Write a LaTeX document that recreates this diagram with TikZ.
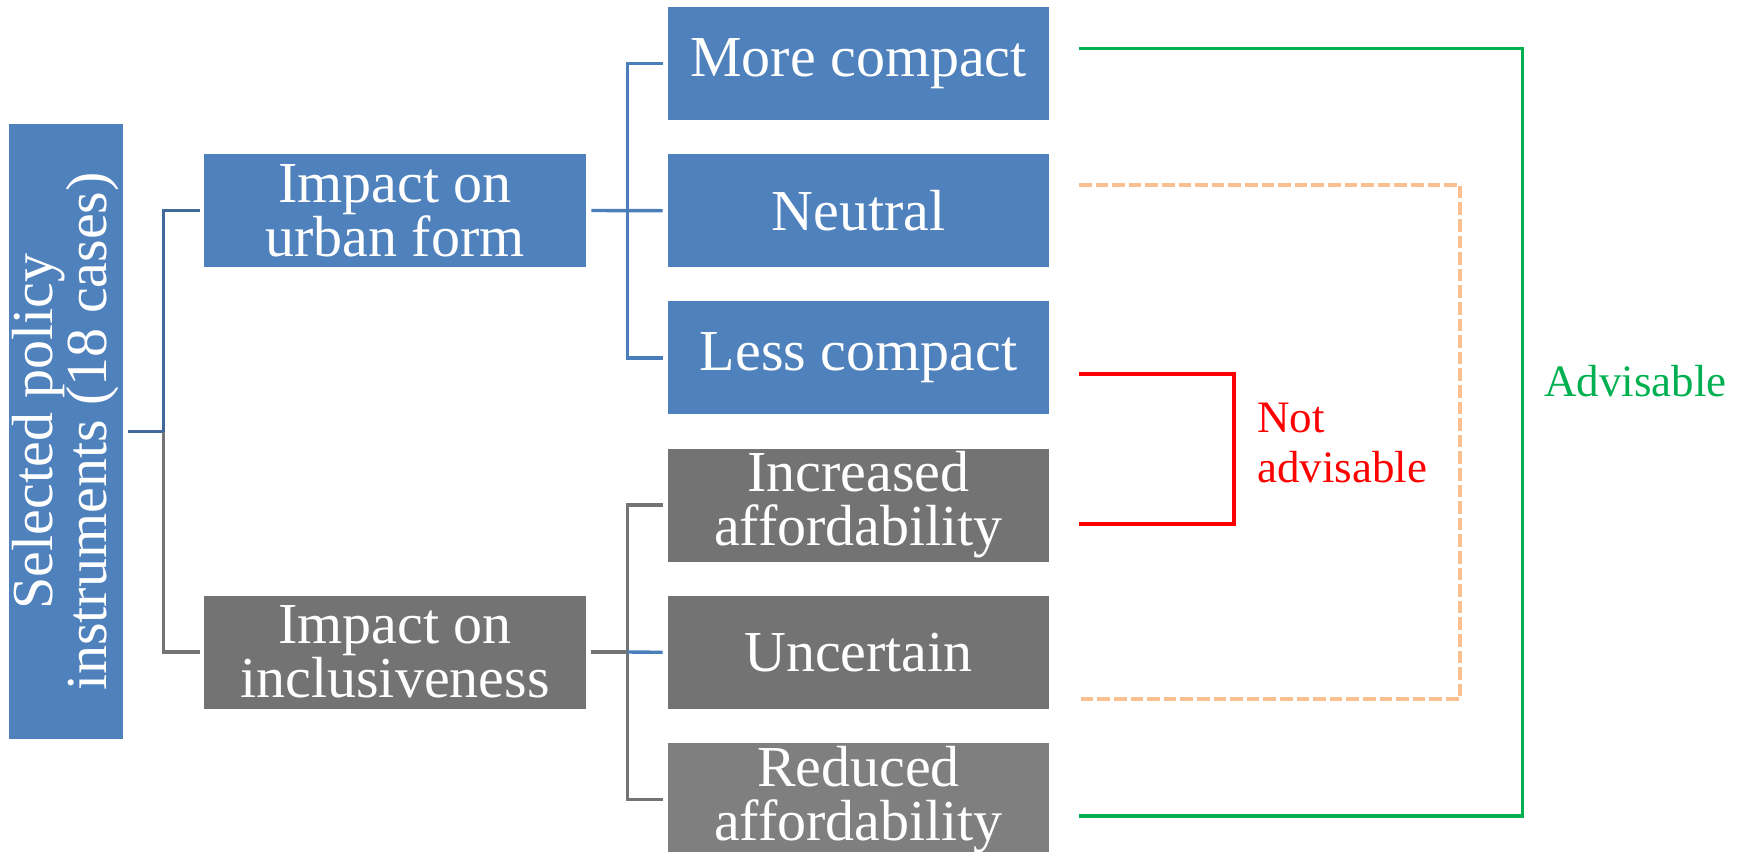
\documentclass[tikz,border=0pt]{standalone}
\usepackage{fontspec}
\setmainfont{Liberation Serif}
\definecolor{boxblue}{HTML}{4F81BD}
\definecolor{boxgray}{HTML}{737373}
\definecolor{boxlight}{HTML}{7F7F7F}
\definecolor{rootblue}{HTML}{41699C}
\definecolor{linkblue}{HTML}{4A7EBB}
\definecolor{linkgray}{HTML}{747474}
\definecolor{advgreen}{HTML}{00B050}
\definecolor{advred}{HTML}{FF0000}
\definecolor{advorange}{HTML}{FAC090}
\tikzstyle{box} = [rectangle, text=white, inner sep=0pt, minimum width=190.5pt, minimum height=56.5pt, align=center, font=\fontsize{29}{27}\selectfont]
\tikzstyle{bluebox} = [box, fill=boxblue]
\tikzstyle{graybox} = [box, fill=boxgray]
\tikzstyle{link} = [line width=1.7pt]
\tikzstyle{bracket} = [line width=1.9pt]
\tikzstyle{verdict} = [inner sep=0pt, anchor=west, align=left, font=\fontsize{22.5}{25}\selectfont]

\begin{document}
\begin{tikzpicture}[x=0.5pt,y=-0.5pt]
				\useasboundingbox (0,0) rectangle (1742,852);
				\node[bluebox, rotate=90, minimum width=307.5pt, minimum height=57pt] (root) at (66,431.5) {Selected policy\\instruments (18 cases)};
				\node[bluebox, minimum width=191pt] (urban) at (395,210.5) {Impact on\\urban form};
				\node[graybox, minimum width=191pt] (incl) at (395,652) {Impact on\\inclusiveness};
				\node[bluebox] (more) at (858.5,63.5) {More compact};
				\node[bluebox] (neutral) at (858.5,210.7) {Neutral};
				\node[bluebox] (less) at (858.5,357.9) {Less compact};
				\node[graybox] (incr) at (858.5,505.1) {Increased\\affordability};
				\node[graybox] (uncert) at (858.5,652.3) {Uncertain};
				\node[graybox, fill=boxlight] (red) at (858.5,799.5) {Reduced\\affordability};
				\coordinate (rootfork) at ([xshift=20pt]root.south);
				\draw[link, rootblue] ([xshift=2.5pt]root.south) -- (rootfork) |- ([xshift=-2pt]urban.west);
				\draw[link, linkgray] (rootfork) |- ([xshift=-2pt]incl.west);
				\coordinate (urbanfork) at ([xshift=20.5pt]urban.east);
				\draw[link, linkblue] ([xshift=2.5pt]urban.east) -- ([xshift=-2.5pt]neutral.west);
				\draw[link, linkblue] ([xshift=-2.5pt]more.west) -| (urbanfork) |- ([xshift=-2.5pt]less.west);
				\coordinate (inclfork) at ([xshift=20.5pt]incl.east);
				\draw[link, linkgray] ([xshift=-2.5pt]incr.west) -| (inclfork) |- ([xshift=-2.5pt]red.west);
				\draw[link, linkgray] ([xshift=2.5pt]incl.east) -- (inclfork);
				\draw[link, linkblue] (inclfork) -- ([xshift=-2.5pt]uncert.west);
				\coordinate (gtop) at (1079,48.5);
				\coordinate (gbot) at (1079,816);
				\coordinate (otop) at (1079,185);
				\coordinate (obot) at (1079,699);
				\coordinate (rtop) at (1079,374);
				\coordinate (rbot) at (1079,524);
				\draw[bracket, advgreen] (gtop) -- ++(443.5,0) |- (gbot);
				\draw[bracket, advorange, dash pattern=on 6.3pt off 2pt] (otop) -- ++(381,0) |- (obot);
				\draw[bracket, advred] (rtop) -- ++(155,0) |- (rbot);
				\node[verdict, text=advred] (notadv) at (1257,442.5) {Not\\advisable};
				\node[verdict, text=advgreen] (adv) at (1544,381) {Advisable};
\end{tikzpicture}
\end{document}
